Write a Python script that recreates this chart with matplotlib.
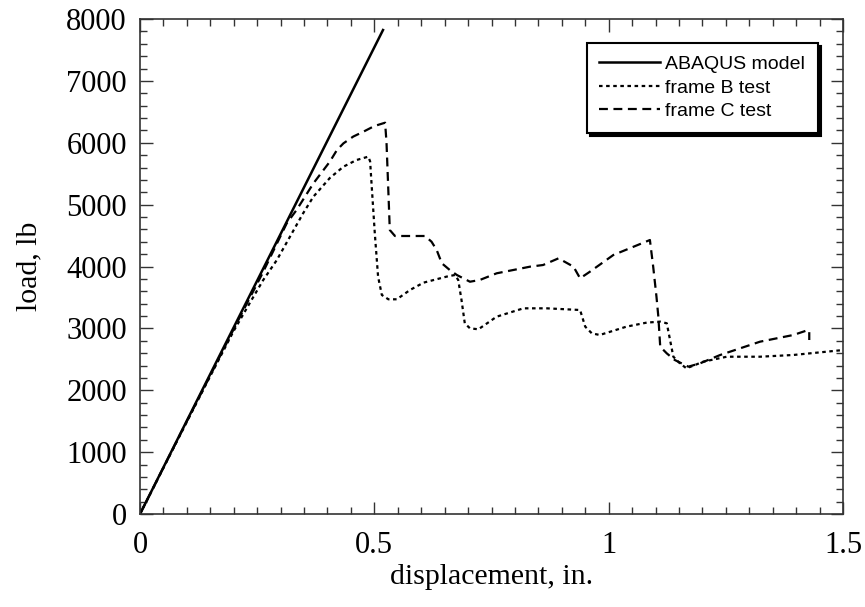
import matplotlib
matplotlib.use("Agg")
import matplotlib.pyplot as plt
from matplotlib.ticker import MultipleLocator

# ABAQUS model (linear)
abaqus_x = [0.0, 0.5185]
abaqus_y = [0.0, 7822]

# frame B test (dotted)
b_x = [0.0, 0.05, 0.10, 0.15, 0.20, 0.235, 0.263, 0.292, 0.320, 0.348, 0.370, 0.405, 0.434,
       0.462, 0.487, 0.491, 0.494, 0.501, 0.508, 0.516, 0.530, 0.548, 0.576, 0.605, 0.654,
       0.672, 0.679, 0.686, 0.693, 0.704, 0.722, 0.761, 0.818, 0.868, 0.939, 0.950, 0.964,
       0.981, 1.038, 1.081, 1.110, 1.124, 1.131, 1.138, 1.152, 1.166, 1.202, 1.252, 1.323,
       1.394, 1.465, 1.500]
b_y = [0, 745, 1490, 2230, 2960, 3420, 3782, 4105, 4482, 4859, 5129, 5430, 5613,
       5721, 5775, 5700, 5344, 4536, 3836, 3540, 3470, 3470, 3620, 3739, 3836,
       3863, 3782, 3459, 3082, 3001, 2985, 3189, 3324, 3324, 3297, 3028, 2920,
       2893, 3028, 3093, 3109, 3082, 2812, 2542, 2435, 2354, 2462, 2542, 2542,
       2570, 2623, 2650]

# frame C test (dashed)
c_x = [0.0, 0.05, 0.10, 0.15, 0.20, 0.26, 0.313, 0.334, 0.370, 0.405, 0.420, 0.434, 0.455,
       0.477, 0.500, 0.523, 0.526, 0.530, 0.533, 0.544, 0.608, 0.622, 0.633, 0.644, 0.661,
       0.676, 0.704, 0.725, 0.761, 0.832, 0.860, 0.893, 0.925, 0.939, 0.960, 1.010, 1.088,
       1.095, 1.102, 1.106, 1.110, 1.124, 1.141, 1.170, 1.195, 1.238, 1.323, 1.394, 1.426,
       1.428, 1.428]
c_y = [0, 750, 1500, 2240, 2990, 3870, 4697, 4913, 5344, 5694, 5880, 5990, 6100,
       6180, 6270, 6324, 6000, 5200, 4590, 4493, 4493, 4401, 4267, 4052, 3943,
       3863, 3754, 3782, 3890, 3997, 4024, 4132, 3997, 3809, 3916, 4186, 4428,
       3997, 3512, 3189, 2704, 2596, 2489, 2381, 2435, 2570, 2785, 2893, 2974,
       2950, 2812]

xticks = [0, 0.5, 1, 1.5]
xticklabels = ["0", "0.5", "1", "1.5"]
yticks = [0, 1000, 2000, 3000, 4000, 5000, 6000, 7000, 8000]

fig = plt.figure(figsize=(8.65, 6.07), dpi=100)
ax = fig.add_axes([140/865, 1-514/607, 703/865, 495/607])

ax.plot(abaqus_x, abaqus_y, color="black", lw=1.8, linestyle="-", label="ABAQUS model")
ax.plot(b_x, b_y, color="black", lw=1.6, linestyle=(0, (1.6, 1.6)), label="frame B test")
ax.plot(c_x, c_y, color="black", lw=1.6, linestyle=(0, (4, 2.5)), label="frame C test")

ax.set_xlim(0, 1.5)
ax.set_ylim(0, 8000)
ax.set_xticks(xticks)
ax.set_xticklabels(xticklabels)
ax.set_yticks(yticks)
ax.xaxis.set_minor_locator(MultipleLocator(0.05))
ax.yaxis.set_minor_locator(MultipleLocator(200))
ax.tick_params(which="both", direction="in", top=True, right=True, width=1, color="#333333")
ax.tick_params(which="major", length=9)
ax.tick_params(which="minor", length=5)
ax.tick_params(axis="x", which="major", pad=12)
ax.tick_params(axis="y", which="major", pad=9.5)

serif = ["Liberation Serif", "DejaVu Serif"]
for lab in ax.get_xticklabels() + ax.get_yticklabels():
    lab.set_fontfamily(serif)
    lab.set_fontsize(22)

for s in ax.spines.values():
    s.set_linewidth(1.2)
    s.set_color("#333333")

ax.set_xlabel("displacement, in.", fontfamily=serif, fontsize=21.5, labelpad=3)
ax.set_ylabel("load, lb", fontfamily=serif, fontsize=21.5, labelpad=17)

leg = ax.legend(loc="upper right", bbox_to_anchor=(818/865, 1-43/607), bbox_transform=fig.transFigure,
                frameon=True, fancybox=False, shadow={"color": "black", "alpha": 1.0},
                prop={"family": ["Liberation Sans", "DejaVu Sans"], "size": 14},
                handlelength=3.1, handletextpad=0.3, borderpad=0.65, labelspacing=0.3,
                borderaxespad=0)
leg.get_frame().set_edgecolor("black")
leg.get_frame().set_linewidth(1.5)
leg.get_frame().set_alpha(1)

fig.savefig("out.png", dpi=100)
